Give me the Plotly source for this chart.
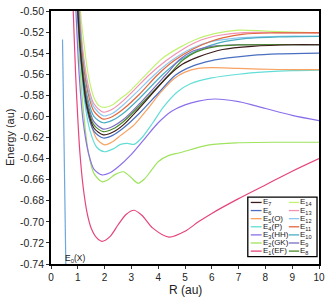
import plotly.graph_objects as go

# ---------------- data ----------------
R_E0 = [0.43, 0.48, 0.53, 0.565]
E_E0 = [-0.527, -0.620, -0.700, -0.760]

R_E1 = [0.80, 0.83, 0.92, 1.00, 1.08, 1.20, 1.35, 1.50, 1.70, 1.90, 2.20, 2.50, 2.80, 3.10, 3.40, 3.80, 4.40, 5.00, 5.50, 6.00, 7.00, 8.00, 9.00, 10.0]
E_E1 = [-0.48, -0.50, -0.561, -0.602, -0.635, -0.667, -0.692, -0.706, -0.715, -0.7185, -0.714, -0.703, -0.693, -0.689, -0.694, -0.706, -0.7145, -0.709, -0.700, -0.692, -0.678, -0.665, -0.652, -0.640]

R_E2 = [0.95, 0.98, 1.10, 1.25, 1.40, 1.60, 1.90, 2.10, 2.40, 2.70, 2.95, 3.25, 3.50, 3.75, 4.00, 4.40, 4.80, 5.90, 7.00, 8.50, 10.0]
E_E2 = [-0.48, -0.50, -0.560, -0.605, -0.635, -0.654, -0.662, -0.6605, -0.655, -0.6525, -0.657, -0.6634, -0.659, -0.651, -0.643, -0.637, -0.6345, -0.627, -0.625, -0.6245, -0.6245]

R_E3 = [0.90, 0.93, 1.05, 1.20, 1.40, 1.60, 1.90, 2.20, 2.50, 3.00, 3.50, 4.00, 4.50, 5.00, 5.50, 6.10, 7.00, 8.00, 9.00, 10.0]
E_E3 = [-0.48, -0.50, -0.560, -0.605, -0.635, -0.650, -0.6555, -0.6535, -0.648, -0.636, -0.621, -0.606, -0.595, -0.589, -0.5855, -0.5835, -0.586, -0.5925, -0.599, -0.604]

R_E4 = [0.97, 1.00, 1.10, 1.25, 1.45, 1.70, 2.00, 2.30, 2.60, 2.85, 3.10, 3.40, 3.80, 4.20, 4.70, 5.20, 6.00, 7.00, 8.00, 9.00, 10.0]
E_E4 = [-0.48, -0.50, -0.545, -0.585, -0.613, -0.629, -0.6335, -0.631, -0.6265, -0.6255, -0.6265, -0.620, -0.606, -0.591, -0.577, -0.569, -0.5635, -0.5600, -0.5578, -0.5565, -0.556]

R_E5 = [0.99, 1.02, 1.12, 1.25, 1.45, 1.70, 2.00, 2.30, 2.60, 3.10, 3.60, 4.10, 4.60, 5.00, 5.50, 6.00, 7.00, 8.50, 10.0]
E_E5 = [-0.48, -0.50, -0.540, -0.575, -0.603, -0.621, -0.627, -0.624, -0.618, -0.608, -0.593, -0.577, -0.564, -0.558, -0.5545, -0.5537, -0.5545, -0.5555, -0.5557]

R_E6 = [0.96, 0.99, 1.13, 1.33, 1.60, 1.95, 2.30, 2.70, 3.30, 4.00, 4.65, 5.30, 6.00, 6.60, 7.50, 8.50, 10.0]
E_E6 = [-0.48, -0.50, -0.550, -0.592, -0.614, -0.6205, -0.618, -0.611, -0.597, -0.578, -0.5607, -0.552, -0.547, -0.5445, -0.542, -0.5407, -0.540]

R_E7 = [0.97, 1.00, 1.14, 1.34, 1.60, 1.95, 2.30, 2.70, 3.30, 4.40, 4.90, 5.50, 6.40, 7.50, 9.00, 10.0]
E_E7 = [-0.48, -0.50, -0.550, -0.590, -0.611, -0.6175, -0.615, -0.608, -0.592, -0.561, -0.5505, -0.5435, -0.5365, -0.5335, -0.532, -0.532]

R_E8 = [0.98, 1.01, 1.15, 1.35, 1.60, 1.95, 2.30, 2.70, 3.30, 4.40, 4.90, 5.40, 6.10, 7.00, 10.0]
E_E8 = [-0.48, -0.50, -0.550, -0.588, -0.608, -0.6145, -0.612, -0.605, -0.590, -0.5607, -0.547, -0.539, -0.534, -0.5322, -0.532]

R_E9 = [0.99, 1.02, 1.16, 1.36, 1.60, 1.95, 2.30, 2.70, 3.30, 4.28, 4.80, 5.30, 6.00, 7.00, 10.0]
E_E9 = [-0.48, -0.50, -0.550, -0.586, -0.605, -0.612, -0.6095, -0.603, -0.588, -0.5607, -0.546, -0.538, -0.5335, -0.532, -0.532]

R_E10 = [1.00, 1.03, 1.17, 1.37, 1.60, 1.95, 2.30, 2.70, 3.30, 4.15, 4.80, 5.50, 6.30, 7.30, 8.50, 10.0]
E_E10 = [-0.48, -0.50, -0.550, -0.583, -0.600, -0.606, -0.6035, -0.597, -0.583, -0.5607, -0.547, -0.537, -0.530, -0.526, -0.5245, -0.524]

R_E11 = [1.01, 1.04, 1.18, 1.38, 1.60, 1.95, 2.30, 2.70, 3.30, 3.97, 4.60, 5.30, 6.00, 6.40, 7.20, 8.30, 10.0]
E_E11 = [-0.48, -0.50, -0.545, -0.578, -0.595, -0.6025, -0.600, -0.593, -0.579, -0.5607, -0.547, -0.536, -0.5285, -0.5255, -0.522, -0.5208, -0.5205]

R_E12 = [1.02, 1.05, 1.20, 1.40, 1.60, 1.95, 2.30, 2.70, 3.20, 3.85, 4.50, 5.20, 5.90, 7.00, 8.50, 10.0]
E_E12 = [-0.48, -0.50, -0.545, -0.576, -0.591, -0.5995, -0.597, -0.589, -0.577, -0.5607, -0.547, -0.536, -0.5295, -0.5255, -0.524, -0.524]

R_E13 = [1.04, 1.07, 1.20, 1.40, 1.60, 1.95, 2.30, 2.70, 3.10, 3.66, 4.30, 5.00, 5.60, 6.30, 7.20, 8.50, 10.0]
E_E13 = [-0.48, -0.50, -0.540, -0.572, -0.588, -0.596, -0.593, -0.585, -0.575, -0.5607, -0.547, -0.535, -0.5275, -0.523, -0.5205, -0.5205, -0.521]

R_E14 = [1.07, 1.10, 1.25, 1.40, 1.60, 1.80, 2.00, 2.30, 2.60, 2.86, 3.48, 4.15, 4.80, 5.40, 6.10, 7.00, 8.00, 9.00, 10.0]
E_E14 = [-0.48, -0.50, -0.535, -0.562, -0.582, -0.590, -0.5915, -0.589, -0.583, -0.578, -0.562, -0.545, -0.5345, -0.527, -0.5215, -0.5182, -0.519, -0.520, -0.5205]

Y_TICKS = [-0.74, -0.72, -0.70, -0.68, -0.66, -0.64, -0.62, -0.60, -0.58, -0.56, -0.54, -0.52, -0.50]
Y_TICK_LABELS = ["-0.74", "-0.72", "-0.70", "-0.68", "-0.66", "-0.64", "-0.62", "-0.60", "-0.58", "-0.56", "-0.54", "-0.52", "-0.50"]
X_TICKS = [0, 1, 2, 3, 4, 5, 6, 7, 8, 9, 10]

# legend columns (left column, right column)
LEFT_NAMES = ["E<sub>7</sub>", "E<sub>6</sub>", "E<sub>5</sub>(O)", "E<sub>4</sub>(P)", "E<sub>3</sub>(HH)", "E<sub>2</sub>(GK)", "E<sub>1</sub>(EF)"]
RIGHT_NAMES = ["E<sub>14</sub>", "E<sub>13</sub>", "E<sub>12</sub>", "E<sub>11</sub>", "E<sub>10</sub>", "E<sub>9</sub>", "E<sub>8</sub>"]

COLORS = {
    "E0": "#6fa8dc", "E1": "#e5457a", "E2": "#9fe35e", "E3": "#8b6fea",
    "E4": "#62ded6", "E5": "#f8a264", "E6": "#4a6fc0", "E7": "#3d1c1c",
    "E8": "#4a8a2a", "E9": "#7a6cc0", "E10": "#4aaec4", "E11": "#e0683e",
    "E12": "#8ec8f0", "E13": "#f092b2", "E14": "#c2f272",
}

series = [
    ("E0", R_E0, E_E0, "linear"),
    ("E1", R_E1, E_E1, "spline"), ("E2", R_E2, E_E2, "spline"),
    ("E3", R_E3, E_E3, "spline"), ("E4", R_E4, E_E4, "spline"),
    ("E5", R_E5, E_E5, "spline"), ("E14", R_E14, E_E14, "spline"),
    ("E13", R_E13, E_E13, "spline"), ("E12", R_E12, E_E12, "spline"),
    ("E11", R_E11, E_E11, "spline"), ("E10", R_E10, E_E10, "spline"),
    ("E6", R_E6, E_E6, "spline"), ("E9", R_E9, E_E9, "spline"),
    ("E8", R_E8, E_E8, "spline"), ("E7", R_E7, E_E7, "spline"),
]

fig = go.Figure()
for key, xs, ys, shp in series:
    line = dict(color=COLORS[key], width=1.2, shape=shp)
    if shp == "spline":
        line["smoothing"] = 0.8
    fig.add_trace(go.Scatter(x=xs, y=ys, mode="lines", name=key, line=line,
                             showlegend=False, hoverinfo="x+y+name"))

# ---------------- custom compact legend ----------------
W, H = 330, 297
ML, MR, MT, MB = 51, 8, 5, 33
pw, ph = W - ML - MR, H - MT - MB

def px(x):
    return (x - ML) / pw

def py(y):
    return (H - MB - y) / ph

shapes = [dict(type="rect", xref="paper", yref="paper",
               x0=px(250), x1=px(320), y0=py(256.5), y1=py(195.5),
               line=dict(color="black", width=1.3), fillcolor="white", layer="above")]
annotations = []
left_keys = ["E7", "E6", "E5", "E4", "E3", "E2", "E1"]
right_keys = ["E14", "E13", "E12", "E11", "E10", "E9", "E8"]
for i in range(7):
    yrow = 201 + i * 8.3
    for keys, names, sx0, sx1, tx in ((left_keys, LEFT_NAMES, 253, 264, 264.5),
                                      (right_keys, RIGHT_NAMES, 291.5, 302, 302)):
        shapes.append(dict(type="line", xref="paper", yref="paper",
                           x0=px(sx0), x1=px(sx1), y0=py(yrow), y1=py(yrow),
                           line=dict(color=COLORS[keys[i]], width=1.3), layer="above"))
        annotations.append(dict(xref="paper", yref="paper", x=px(tx), y=py(yrow),
                                text=names[i], showarrow=False, xanchor="left",
                                yanchor="middle", borderpad=0,
                                font=dict(size=8, color="#222")))

annotations.append(dict(xref="x", yref="y", x=0.45, y=-0.7345, text="E<sub>0</sub>(X)",
                        showarrow=False, xanchor="left", yanchor="middle",
                        font=dict(size=8.5, color="#222")))
# axis titles
annotations.append(dict(xref="paper", yref="paper", x=0.5, y=py(290.5), text="R (au)",
                        showarrow=False, xanchor="center", yanchor="middle", borderpad=0,
                        font=dict(size=12, color="#222")))
annotations.append(dict(xref="paper", yref="paper", x=px(9), y=0.5, text="Energy (au)",
                        showarrow=False, xanchor="center", yanchor="middle", textangle=-90,
                        font=dict(size=11, color="#222")))

fig.update_layout(
    width=W, height=H,
    margin=dict(l=ML, r=MR, t=MT, b=MB),
    paper_bgcolor="white", plot_bgcolor="white",
    font=dict(family="Liberation Sans, Arial, sans-serif", size=10, color="#222"),
    shapes=shapes, annotations=annotations,
    showlegend=False,
)
fig.update_xaxes(range=[0, 10], tickvals=X_TICKS, ticks="outside", ticklen=3,
                 tickcolor="#333", showline=True, linecolor="black", linewidth=1.8,
                 mirror=True, showgrid=False, zeroline=False,
                 tickfont=dict(size=10))
fig.update_yaxes(range=[-0.74, -0.50], tickvals=Y_TICKS, ticktext=Y_TICK_LABELS,
                 ticks="outside", ticklen=3, tickcolor="#333", showline=True,
                 linecolor="black", linewidth=1.8, mirror=True, showgrid=False,
                 zeroline=False, tickfont=dict(size=10.5))

fig.write_html("out.html", config={"displayModeBar": False},
               post_script="document.body.style.margin='0px';document.body.style.overflow='hidden';")
